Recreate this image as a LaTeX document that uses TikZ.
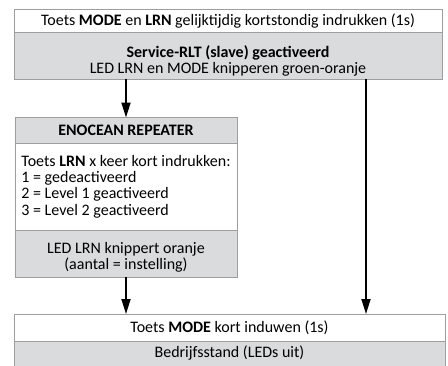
\documentclass[tikz,border=0pt]{standalone}
\usepackage{fontspec}
\setmainfont{Carlito}
\usetikzlibrary{arrows.meta,positioning}
\definecolor{bandgray}{RGB}{218,219,221}
\definecolor{linegray}{RGB}{158,158,158}
\newcommand{\bandstrut}[1]{\rule{0pt}{#1}}

\begin{document}
\begin{tikzpicture}[x=1pt, y=-1pt,
	band/.style = {draw=linegray, line width=0.9pt, inner sep=0pt, outer sep=0pt,
		align=center, font=\fontsize{16}{16.3}\selectfont},
	white band/.style = {band, fill=white},
	grey band/.style = {band, fill=bandgray},
	flow/.style = {line width=1.8pt, -{Triangle[length=15pt,width=9pt]}}]
	\clip (0,0) rectangle (448,365);
	
	% top block
	\node[white band, anchor=north west, minimum width=428pt, minimum height=22.5pt] (keys) at (14,9.5)
		{Toets \textbf{MODE} en \textbf{LRN} gelijktijdig kortstondig indrukken (1s)};
	\node[grey band, anchor=north, minimum width=428pt, minimum height=47pt] (service) at (keys.south)
		{\bandstrut{23pt}\textbf{Service-RLT (slave) geactiveerd}\\LED LRN en MODE knipperen groen-oranje};
	
	% repeater block
	\node[grey band, anchor=north west, minimum width=222pt, minimum height=25.5pt] (repeater) at (15,117.5)
		{\textbf{ENOCEAN REPEATER}};
	\node[white band, anchor=north, align=left, minimum width=222pt, minimum height=87pt] (levels) at (repeater.south)
		{Toets \textbf{LRN} x keer kort indrukken:\\1 = gedeactiveerd\\2 = Level 1 geactiveerd\\3 = Level 2 geactiveerd};
	\node[grey band, anchor=north, minimum width=222pt, minimum height=47pt] (blink) at (levels.south)
		{\bandstrut{19pt}LED LRN knippert oranje\\(aantal = instelling)};
	
	% bottom block
	\node[white band, anchor=north west, minimum width=431pt, minimum height=27pt] (mode) at (14,314)
		{Toets \textbf{MODE} kort induwen (1s)};
	\node[grey band, anchor=north, minimum width=431pt, minimum height=25pt] (standby) at (mode.south)
		{Bedrijfsstand (LEDs uit)};
	
	\coordinate (right) at (366,0);
	\draw[flow] (service.south -| repeater.north) -- (repeater.north);
	\draw[flow] (blink.south) -- (mode.north -| blink.south);
	\draw[flow] (service.south -| right) -- (mode.north -| right);
\end{tikzpicture}
\end{document}
